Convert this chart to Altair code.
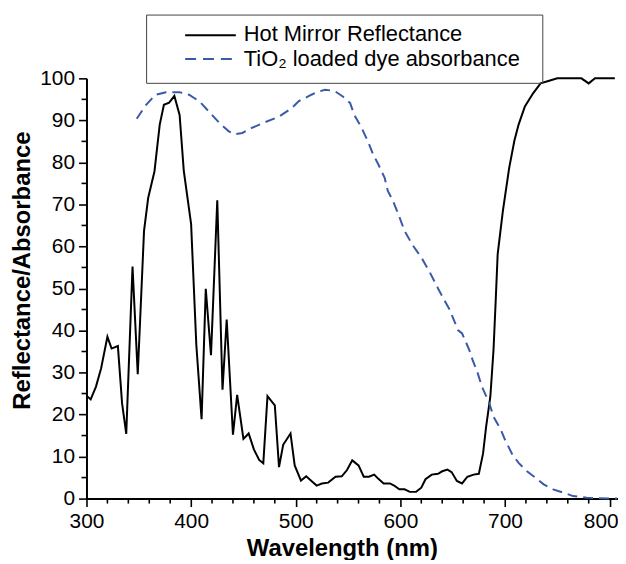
import altair as alt
import pandas as pd

# ---- data ----
hot_wl = [300, 304, 309, 314, 320, 324, 330, 334, 338, 344, 349, 355, 359, 365, 370, 374, 379, 384, 389, 393,
          400, 405, 410, 414, 419, 425, 430, 434, 440, 444, 450, 455, 460, 465, 469, 473, 480, 484, 488, 495,
          499, 505, 510, 515, 520, 525, 531, 538, 544, 549, 554, 560, 565, 570, 575, 579, 584, 590, 594, 599,
          604, 609, 615, 620, 624, 630, 636, 640, 645, 649, 654, 659, 664, 670, 675, 679, 682, 686, 689, 691,
          693, 698, 704, 709, 713, 719, 727, 734, 743, 750, 773, 780, 786, 805]
hot_val = [24.5, 23.6, 26.6, 31.0, 38.5, 35.7, 36.3, 22.7, 15.4, 55.2, 29.6, 63.7, 71.6, 77.9, 89.0, 93.7, 94.2, 95.8, 91.3, 78.0,
           65.3, 36.5, 18.9, 49.9, 34.1, 71.0, 25.9, 42.6, 15.2, 24.7, 14.2, 15.5, 11.7, 9.2, 8.4, 24.4, 22.2, 7.5, 12.8, 15.5,
           7.9, 4.3, 5.3, 4.2, 3.1, 3.6, 3.8, 5.2, 5.3, 6.8, 9.1, 7.9, 5.2, 5.2, 5.7, 4.7, 3.6, 3.6, 3.1, 2.2,
           2.2, 1.6, 1.6, 2.6, 4.6, 5.7, 5.9, 6.5, 6.9, 6.3, 4.2, 3.6, 5.2, 5.7, 5.9, 10.7, 17.2, 24.3, 35.3, 46.5,
           58.2, 68.5, 78.7, 85.2, 89.0, 93.3, 96.5, 98.8, 99.5, 100, 100, 98.8, 100, 100]

dye_wl = [348, 357, 366, 376, 389, 398, 408, 417, 427, 436, 442, 449, 458, 471, 484, 496, 503, 509, 515, 520,
          528, 537, 545, 552, 556, 563, 569, 574, 579, 585, 588, 593, 598, 604, 612, 620, 628, 636, 642, 647,
          650, 655, 659, 666, 669, 674, 678, 685, 689, 696, 700, 707, 713, 721, 729, 737, 746, 756, 765, 778,
          800, 807]
dye_val = [90.4, 93.7, 96.1, 96.7, 96.7, 96.1, 94.5, 92.1, 89.4, 87.4, 86.7, 87.0, 88.2, 89.6, 90.9, 92.9, 94.6, 95.3, 96.1, 96.7,
           97.3, 97.0, 95.7, 94.1, 91.3, 88.2, 85.0, 81.9, 79.5, 76.3, 73.2, 70.8, 67.7, 63.7, 60.2, 57.4, 53.9, 50.0, 47.2, 45.0,
           43.2, 40.1, 39.3, 35.3, 33.0, 29.8, 26.6, 22.7, 19.5, 16.4, 14.0, 10.5, 8.5, 6.5, 5.0, 3.4, 2.2, 1.4, 0.6, 0.2,
           0.0, 0.0]

x_major = [300, 400, 500, 600, 700, 800]
x_minor = [v for v in range(300, 801, 20) if v % 100 != 0]
y_major = list(range(0, 101, 10))
y_minor = list(range(5, 100, 10))
legend_labels = ["Hot Mirror Reflectance", "TiO\u2082 loaded dye absorbance"]
x_title = "Wavelength (nm)"
y_title = "Reflectance/Absorbance"

FONT = "Liberation Sans"
BLUE = "#3a5aa8"
H = 423

hot = pd.DataFrame({"wl": hot_wl, "val": hot_val})
dye = pd.DataFrame({"wl": dye_wl, "val": dye_val})

xscale = alt.Scale(domain=[300, 808], nice=False, zero=False)
yscale = alt.Scale(domain=[0, 100], nice=False, zero=False)

xaxis = alt.Axis(
    values=x_major, tickSize=8,
    labelOverlap=False, labelFlush=False, grid=False,
    labelOffset={"condition": {"test": "datum.value === 800", "value": -9}, "value": 0},
    title=x_title, titleFontSize=24, titleFontWeight="bold", titleFont=FONT,
    titleX=257, titleY=57, titleBaseline="alphabetic", titleAlign="center",
    labelFontSize=21, labelFont=FONT, labelColor="black", labelPadding=4,
    domainColor="black", domainWidth=2, tickColor="black", tickWidth=1.6,
)
yaxis = alt.Axis(
    values=y_major, tickSize=8,
    labelOverlap=False, labelFlush=False, grid=False,
    title=y_title, titleFontSize=24, titleFontWeight="bold", titleFont=FONT,
    titleX=-57, titleY=193, titleBaseline="alphabetic", titleAlign="center", titleAngle=-90,
    labelFontSize=21, labelFont=FONT, labelColor="black", labelPadding=4,
    domainColor="black", domainWidth=2, tickColor="black", tickWidth=1.6,
)

hot_line = alt.Chart(hot).mark_line(color="black", strokeWidth=2).encode(
    x=alt.X("wl:Q", scale=xscale, axis=xaxis),
    y=alt.Y("val:Q", scale=yscale, axis=yaxis),
)
dye_line = alt.Chart(dye).mark_line(color=BLUE, strokeWidth=2, strokeDash=[10, 6]).encode(
    x=alt.X("wl:Q", scale=xscale),
    y=alt.Y("val:Q", scale=yscale),
)

# minor ticks
xmin_ticks = alt.Chart(pd.DataFrame({"wl": x_minor})).mark_rule(color="black", strokeWidth=1.6).encode(
    x=alt.X("wl:Q", scale=xscale), y=alt.value(H), y2=alt.value(H + 5)
)
ymin_ticks = alt.Chart(pd.DataFrame({"val": y_minor})).mark_rule(color="black", strokeWidth=1.6).encode(
    y=alt.Y("val:Q", scale=yscale), x=alt.value(-5), x2=alt.value(0)
)

one = pd.DataFrame({"k": [0]})
leg_box = alt.Chart(one).mark_rect(fill=None, stroke="#444", strokeWidth=1).encode(
    x=alt.value(60.5), x2=alt.value(459.3), y=alt.value(-63.7), y2=alt.value(5)
)
leg_l1 = alt.Chart(one).mark_rule(color="black", strokeWidth=2).encode(
    x=alt.value(99.3), x2=alt.value(150.3), y=alt.value(-43.4)
)
leg_l2 = alt.Chart(one).mark_rule(color=BLUE, strokeWidth=2, strokeDash=[11, 7]).encode(
    x=alt.value(99.3), x2=alt.value(150.3), y=alt.value(-19.5)
)
leg_t1 = alt.Chart(one).mark_text(align="left", baseline="alphabetic", fontSize=22, font=FONT, color="black").encode(
    x=alt.value(158.3), y=alt.value(-37.4), text=alt.value(legend_labels[0])
)
leg_t2 = alt.Chart(one).mark_text(align="left", baseline="alphabetic", fontSize=22, font=FONT, color="black").encode(
    x=alt.value(158.3), y=alt.value(-12.7), text=alt.value(legend_labels[1])
)

chart = alt.layer(hot_line, dye_line, xmin_ticks, ymin_ticks, leg_box, leg_l1, leg_l2, leg_t1, leg_t2).properties(
    width=535, height=H,
    padding={"left": 79, "top": 69, "right": 0, "bottom": 60},
    autosize=alt.AutoSizeParams(type="none"),
    background="white",
).configure_view(stroke=None)

chart.save("out.html", embed_options={"renderer": "svg", "actions": False})
